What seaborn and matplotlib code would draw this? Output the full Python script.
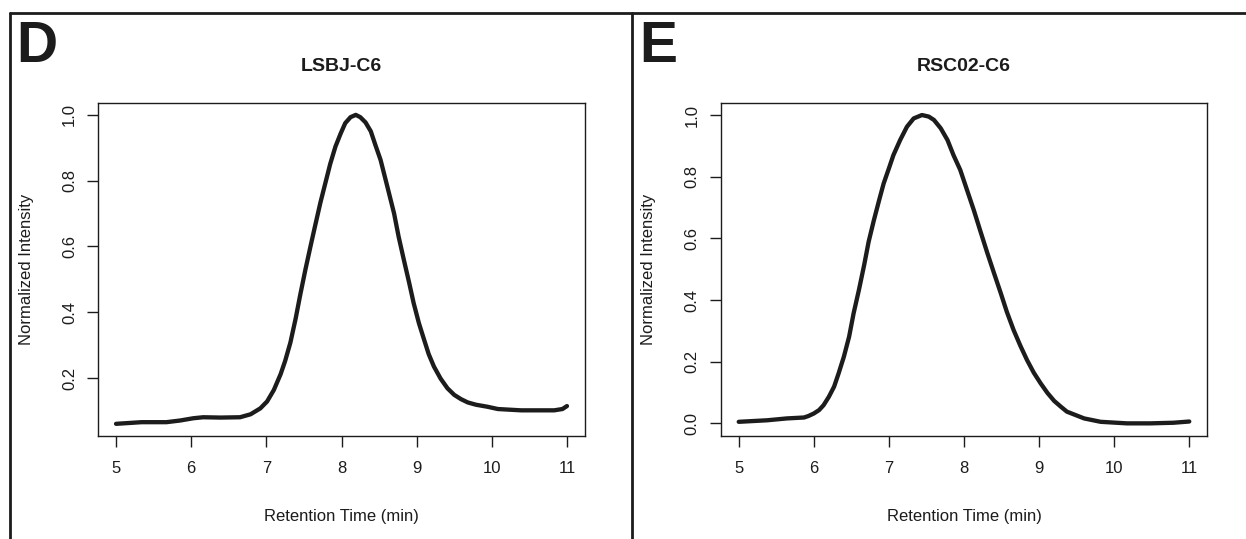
import numpy as np
import pandas as pd
import matplotlib
matplotlib.use("Agg")
import matplotlib.pyplot as plt
from matplotlib.lines import Line2D
import seaborn as sns

# ---- data ----
d_time = [5.0, 5.34, 5.67, 5.85, 6.03, 6.16, 6.39, 6.65, 6.79, 6.92, 7.01, 7.10, 7.19, 7.25,
          7.32, 7.39, 7.45, 7.52, 7.59, 7.65, 7.72, 7.79, 7.85, 7.92, 7.99, 8.05, 8.12, 8.19,
          8.25, 8.32, 8.39, 8.45, 8.52, 8.61, 8.70, 8.76, 8.83, 8.90, 8.96, 9.03, 9.10, 9.16,
          9.23, 9.32, 9.41, 9.50, 9.59, 9.68, 9.79, 9.94, 10.08, 10.39, 10.83, 10.94, 11.0]
d_int = [0.061, 0.066, 0.066, 0.071, 0.078, 0.081, 0.080, 0.081, 0.090, 0.108, 0.129, 0.164,
         0.212, 0.252, 0.308, 0.381, 0.452, 0.530, 0.603, 0.664, 0.734, 0.797, 0.851, 0.904,
         0.944, 0.975, 0.993, 1.0, 0.993, 0.977, 0.950, 0.909, 0.863, 0.782, 0.700, 0.630,
         0.559, 0.490, 0.428, 0.367, 0.316, 0.273, 0.235, 0.198, 0.169, 0.149, 0.136, 0.126,
         0.119, 0.113, 0.106, 0.102, 0.102, 0.106, 0.115]

e_time = [5.0, 5.38, 5.64, 5.87, 5.93, 6.0, 6.07, 6.13, 6.20, 6.27, 6.33, 6.40, 6.47, 6.53,
          6.60, 6.67, 6.73, 6.80, 6.87, 6.93, 7.0, 7.06, 7.15, 7.24, 7.33, 7.44, 7.53, 7.60,
          7.69, 7.78, 7.86, 7.95, 8.04, 8.13, 8.22, 8.31, 8.40, 8.49, 8.57, 8.66, 8.75, 8.84,
          8.93, 9.02, 9.11, 9.20, 9.29, 9.37, 9.60, 9.82, 10.17, 10.48, 10.79, 11.0]
e_int = [0.005, 0.010, 0.016, 0.019, 0.024, 0.032, 0.043, 0.059, 0.086, 0.119, 0.162, 0.216,
         0.281, 0.357, 0.432, 0.513, 0.589, 0.659, 0.724, 0.778, 0.827, 0.870, 0.919, 0.962,
         0.989, 1.0, 0.995, 0.984, 0.957, 0.919, 0.870, 0.822, 0.757, 0.692, 0.622, 0.553,
         0.487, 0.422, 0.362, 0.303, 0.252, 0.205, 0.164, 0.130, 0.099, 0.073, 0.054, 0.038,
         0.016, 0.005, 0.0, 0.0, 0.002, 0.006]

panels = ["D", "E"]
titles = ["LSBJ-C6", "RSC02-C6"]
x_ticks = [5, 6, 7, 8, 9, 10, 11]
d_yticks = [0.2, 0.4, 0.6, 0.8, 1.0]
e_yticks = [0.0, 0.2, 0.4, 0.6, 0.8, 1.0]
x_label = "Retention Time (min)"
y_label = "Normalized Intensity"

sns.set_theme(style="ticks")
plt.rcParams["font.family"] = ["Liberation Sans", "DejaVu Sans"]

W, H = 1246, 539
fig = plt.figure(figsize=(W / 100, H / 100), dpi=100)

ink = "#1c1c1c"

ax_left = [98, 720.7]
ax_right = [585, 1207.3]
top_px, bot_px = 102.7, 436
ylims = [(0.024, 1.037), (-0.041, 1.040)]
datasets = [(d_time, d_int, d_yticks), (e_time, e_int, e_yticks)]
letter_x = [16, 639]
ylabel_x = [27, 648]

for i in range(2):
    l, r = ax_left[i], ax_right[i]
    ax = fig.add_axes([l / W, 1 - bot_px / H, (r - l) / W, (bot_px - top_px) / H])
    t, v, yt = datasets[i]
    df = pd.DataFrame({"time": t, "intensity": v})
    sns.lineplot(data=df, x="time", y="intensity", ax=ax, color=ink, linewidth=3.1,
                 estimator=None, sort=False, solid_capstyle="round", solid_joinstyle="round")
    ax.set_xlim(4.76, 11.24)
    ax.set_ylim(*ylims[i])
    ax.set_xticks(x_ticks)
    ax.set_xticklabels([str(x) for x in x_ticks])
    ax.set_yticks(yt)
    ax.set_yticklabels([f"{y:.1f}" for y in yt])
    for s in ax.spines.values():
        s.set_visible(True)
        s.set_color(ink)
        s.set_linewidth(1.0)
    ax.tick_params(axis="both", direction="out", length=8, width=1.0, color=ink,
                   labelsize=12, labelcolor=ink)
    ax.tick_params(axis="x", pad=10)
    ax.tick_params(axis="y", pad=7, labelrotation=90)
    for lab in ax.get_yticklabels():
        lab.set_va("center")
    ax.set_xlabel(x_label, fontsize=12, color=ink)
    ax.set_ylabel(y_label, fontsize=12, color=ink)
    ax.xaxis.label.set_va("baseline")
    ax.xaxis.set_label_coords(0.5, (bot_px - 521) / (bot_px - top_px))
    ax.yaxis.label.set_va("center")
    ax.yaxis.set_label_coords((ylabel_x[i] - l) / (r - l), 0.5)
    ax.set_facecolor("white")

    cx = (l + r) / 2
    fig.text(cx / W, 1 - 71 / H, titles[i], ha="center", va="baseline",
             fontsize=14, fontweight="bold", color=ink)
    fig.text(letter_x[i] / W, 1 - 62 / H, panels[i], ha="left", va="baseline",
             fontsize=41, fontweight="bold", color=ink)

# outer frame lines
fig.add_artist(Line2D([10 / W, 1.0], [1 - 13 / H, 1 - 13 / H], color=ink, linewidth=2.0,
                      transform=fig.transFigure))
for xv in [10, 632]:
    fig.add_artist(Line2D([xv / W, xv / W], [1 - 13 / H, 0.0], color=ink, linewidth=2.0,
                          transform=fig.transFigure))

fig.savefig("out.png", dpi=100, facecolor="white")
